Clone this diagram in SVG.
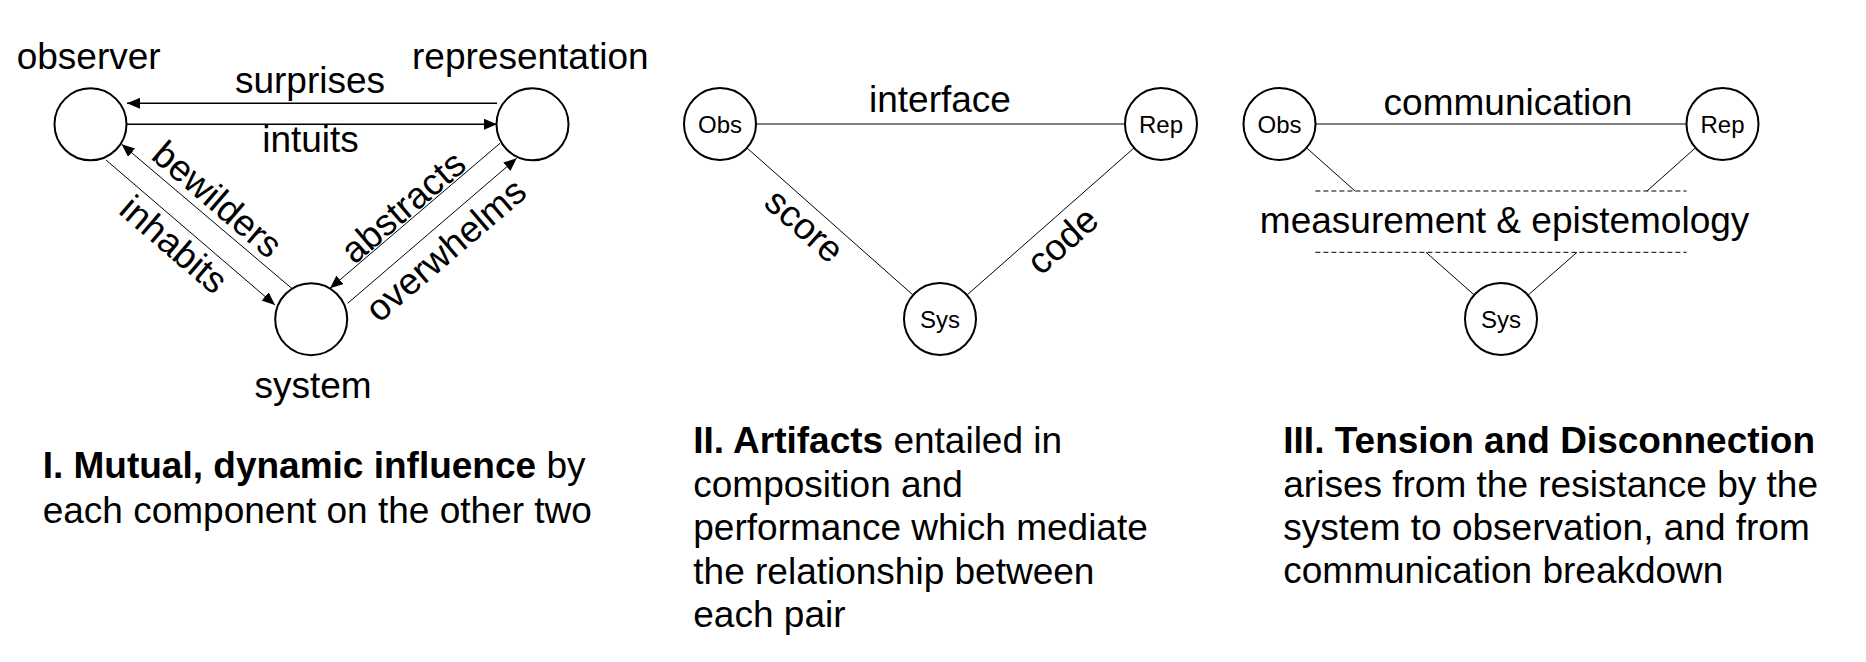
<svg xmlns="http://www.w3.org/2000/svg" width="1866" height="662" viewBox="0 0 1866 662">
<style>
text{font-family:"Liberation Sans",Arial,Helvetica,sans-serif;fill:#000}
.big{font-size:37px}
.small{font-size:24px;text-anchor:middle}
.mid{text-anchor:middle}
.b{font-weight:bold}
.node{fill:#fff;stroke:#000;stroke-width:2}
.ln{stroke:#000;stroke-width:1;fill:none}
.lnh{stroke:#000;stroke-width:1.5;fill:none}
.dash{stroke:#000;stroke-width:1;stroke-dasharray:5 3;fill:none}
</style>
<defs>
<marker id="ah" viewBox="0 0 13 11" refX="13" refY="5.5" markerWidth="13" markerHeight="11" markerUnits="userSpaceOnUse" orient="auto">
<path d="M0,0 L13,5.5 L0,11 z" fill="#000"/>
</marker>
</defs>

<!-- Panel I -->
<g id="connectors-I">
<line class="lnh" x1="497" y1="103.3" x2="127" y2="103.3" marker-end="url(#ah)"/>
<line class="lnh" x1="127" y1="124.3" x2="497" y2="124.3" marker-end="url(#ah)"/>
<line class="ln" x1="106" y1="160" x2="275" y2="305" marker-end="url(#ah)"/>
<line class="ln" x1="291.7" y1="288.3" x2="121.7" y2="144.3" marker-end="url(#ah)"/>
<line class="ln" x1="500" y1="143.3" x2="330" y2="288.3" marker-end="url(#ah)"/>
<line class="ln" x1="347.7" y1="303.3" x2="516.7" y2="158.3" marker-end="url(#ah)"/>
<text class="big mid" x="310" y="93">surprises</text>
<text class="big mid" x="310.5" y="152">intuits</text>
<text class="big mid" transform="translate(174.3,244) rotate(40.6)" y="13.3">inhabits</text>
<text class="big mid" transform="translate(217.8,198.8) rotate(40.6)" y="13.3">bewilders</text>
<text class="big mid" transform="translate(402.6,206.4) rotate(-40.6)" y="13.3">abstracts</text>
<text class="big mid" transform="translate(445.2,249.4) rotate(-40.6)" y="13.3">overwhelms</text>
</g>
<g id="observer">
<circle class="node" cx="90.5" cy="124.3" r="36"/>
<text class="big" x="16.7" y="69.3">observer</text>
</g>
<g id="representation">
<circle class="node" cx="532.5" cy="124.3" r="36"/>
<text class="big" x="412" y="69.3">representation</text>
</g>
<g id="system">
<circle class="node" cx="311.2" cy="319.2" r="36"/>
<text class="big mid" x="313" y="398.3">system</text>
</g>
<g id="caption-I">
<text class="big" x="42.7" y="478.3"><tspan class="b">I. Mutual, dynamic influence</tspan> by</text>
<text class="big" x="42.7" y="522.7">each component on the other two</text>
</g>

<!-- Panel II -->
<g id="connectors-II">
<line class="ln" x1="756" y1="124" x2="1125" y2="124"/>
<line class="ln" x1="746.9" y1="147.9" x2="913.1" y2="295.1"/>
<line class="ln" x1="1134.1" y1="147.9" x2="966.9" y2="295.1"/>
<text class="big mid" x="940" y="111.7">interface</text>
<text class="big mid" transform="translate(802.5,227.8) rotate(41.6)" y="9.6">score</text>
<text class="big mid" transform="translate(1062,240) rotate(-41.6)" y="13.3">code</text>
</g>
<g id="obs-II">
<circle class="node" cx="720" cy="124" r="36"/>
<text class="small" x="720" y="132.6">Obs</text>
</g>
<g id="rep-II">
<circle class="node" cx="1161" cy="124" r="36"/>
<text class="small" x="1161" y="132.6">Rep</text>
</g>
<g id="sys-II">
<circle class="node" cx="940" cy="319" r="36"/>
<text class="small" x="940" y="327.6">Sys</text>
</g>
<g id="caption-II">
<text class="big" x="693.3" y="453.3"><tspan class="b">II. Artifacts</tspan> entailed in</text>
<text class="big" x="693.3" y="496.8">composition and</text>
<text class="big" x="693.3" y="540.3">performance which mediate</text>
<text class="big" x="693.3" y="583.8">the relationship between</text>
<text class="big" x="693.3" y="627.3">each pair</text>
</g>

<!-- Panel III -->
<g id="connectors-III">
<line class="ln" x1="1315.5" y1="124" x2="1686.5" y2="124"/>
<line class="ln" x1="1306.5" y1="147.8" x2="1355" y2="191"/>
<line class="ln" x1="1695.5" y1="147.8" x2="1647" y2="191"/>
<line class="dash" x1="1315.4" y1="191" x2="1686.6" y2="191"/>
<line class="dash" x1="1315.4" y1="252.3" x2="1686.6" y2="252.3"/>
<line class="ln" x1="1426" y1="252.3" x2="1474.5" y2="295.2"/>
<line class="ln" x1="1577" y1="252.3" x2="1528" y2="295.2"/>
<text class="big mid" x="1508" y="115">communication</text>
<text class="big mid" x="1504.6" y="233">measurement &amp; epistemology</text>
</g>
<g id="obs-III">
<circle class="node" cx="1279.5" cy="124" r="36"/>
<text class="small" x="1279.5" y="132.6">Obs</text>
</g>
<g id="rep-III">
<circle class="node" cx="1722.5" cy="124" r="36"/>
<text class="small" x="1722.5" y="132.6">Rep</text>
</g>
<g id="sys-III">
<circle class="node" cx="1501" cy="319" r="36"/>
<text class="small" x="1501" y="327.6">Sys</text>
</g>
<g id="caption-III">
<text class="big" x="1283.3" y="453.3"><tspan class="b">III. Tension and Disconnection</tspan></text>
<text class="big" x="1283.3" y="496.7">arises from the resistance by the</text>
<text class="big" x="1283.3" y="540">system to observation, and from</text>
<text class="big" x="1283.3" y="583.3">communication breakdown</text>
</g>
</svg>
